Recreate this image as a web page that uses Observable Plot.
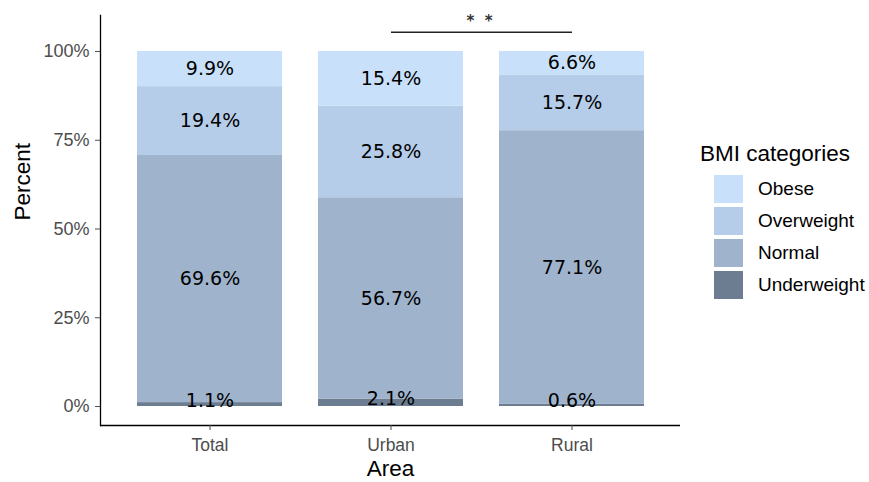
<!DOCTYPE html>
<html>
<head>
<meta charset="utf-8">
<script src="https://cdn.jsdelivr.net/npm/d3@7"></script>
<script src="https://cdn.jsdelivr.net/npm/@observablehq/plot@0.6"></script>
<style>
  html, body { margin: 0; padding: 0; background: #fff; }
  #wrap { position: relative; width: 869px; height: 482px; font-family: "Liberation Sans", Arial, sans-serif; }
  #legend { position: absolute; left: 700px; top: 141px; }
  #legend .title { font-size: 22.5px; color: #000; margin-bottom: 6px; white-space: nowrap; }
  #legend .row { display: flex; align-items: center; height: 32px; }
  #legend .key { width: 29px; height: 28px; margin-left: 14px; margin-right: 15px; }
  #legend .lab { font-size: 19px; color: #000; white-space: nowrap; }
</style>
</head>
<body>
<div id="wrap"></div>
<script>
// ---- data ----
const areas = ["Total", "Urban", "Rural"];
const categories = ["Underweight", "Normal", "Overweight", "Obese"]; // bottom -> top
const underweight = [1.1, 2.1, 0.6];
const normal = [69.6, 56.7, 77.1];
const overweight = [19.4, 25.8, 15.7];
const obese = [9.9, 15.4, 6.6];
const colors = ["#6d7d91", "#9fb4cc", "#b5cde8", "#c8e0fa"];
const yTicks = [0, 25, 50, 75, 100];
const legendOrder = ["Obese", "Overweight", "Normal", "Underweight"];
const sigPair = ["Urban", "Rural"];
const sigLabel = "*  *";
const sigLevel = 105.4;
const sigTextLevel = 108.4;

// ---- build stacked table ----
const series = [underweight, normal, overweight, obese];
const rows = [];
areas.forEach((a, i) => {
  let acc = 0;
  categories.forEach((c, j) => {
    const v = series[j][i];
    rows.push({area: a, cat: c, value: v, y1: acc, y2: acc + v, mid: acc + v / 2, label: v.toFixed(1) + "%"});
    acc += v;
  });
});

const W = 869, H = 482;
const mL = 100, mR = 189, mT = 15, mB = 57;
const yDomain = [-5.35, 110.14];
const step = (W - mL - mR) / 3.2;

const plot = Plot.plot({
  width: W, height: H,
  marginLeft: mL, marginRight: mR, marginTop: mT, marginBottom: mB,
  style: {fontFamily: "'Liberation Sans', Arial, sans-serif", background: "#fff", overflow: "visible"},
  x: {domain: areas, paddingInner: 0.2, paddingOuter: 0.2, label: null},
  y: {domain: yDomain, label: null},
  color: {domain: categories, range: colors},
  marks: [
    Plot.barY(rows, {x: "area", y1: "y1", y2: "y2", fill: "cat", inset: 0}),
    Plot.text(rows.filter(d => d.cat !== "Underweight"), {
      x: "area", y: "mid", text: "label",
      fontFamily: "'DejaVu Sans', Verdana, sans-serif", fontSize: 19, fill: "#000"
    }),
    Plot.text(rows.filter(d => d.cat === "Underweight"), {
      x: "area", y: "mid", text: "label", lineAnchor: "bottom", dy: 2,
      fontFamily: "'DejaVu Sans', Verdana, sans-serif", fontSize: 19, fill: "#000"
    }),
    Plot.link([{a: sigPair[0], b: sigPair[1], v: sigLevel}], {
      x1: "a", x2: "b", y1: "v", y2: "v", stroke: "#222", strokeWidth: 1.5
    }),
    Plot.text([{a: sigPair[0], v: sigTextLevel, t: sigLabel}], {
      x: "a", y: "v", text: "t", dx: step / 2 - 2, fontSize: 15, fill: "#333",
      fontFamily: "'DejaVu Sans', sans-serif", fontWeight: "bold"
    }),
    Plot.ruleY([yDomain[0]], {stroke: "#000", strokeWidth: 1.3}),
    Plot.frame({anchor: "left", stroke: "#000", strokeWidth: 1.3}),
    Plot.axisY({
      ticks: yTicks, tickFormat: d => d + "%", tickSize: 5, tickPadding: 6,
      fontSize: 18, color: "#4d4d4d", label: null
    }),
    Plot.axisX({
      tickSize: 5, tickPadding: 8, fontSize: 17.5, color: "#4d4d4d", label: null
    }),
    Plot.text(["Percent"], {
      frameAnchor: "left", dx: -78, rotate: -90, text: d => d, fontSize: 22.5, fill: "#000"
    }),
    Plot.text(["Area"], {
      frameAnchor: "bottom", lineAnchor: "middle", dy: 43, text: d => d, fontSize: 22.5, fill: "#000"
    })
  ]
});

const wrap = document.getElementById("wrap");
wrap.appendChild(plot);

// legend
const leg = document.createElement("div");
leg.id = "legend";
const t = document.createElement("div");
t.className = "title";
t.textContent = "BMI categories";
leg.appendChild(t);
legendOrder.forEach(c => {
  const r = document.createElement("div");
  r.className = "row";
  const k = document.createElement("div");
  k.className = "key";
  k.style.background = colors[categories.indexOf(c)];
  const l = document.createElement("div");
  l.className = "lab";
  l.textContent = c;
  r.appendChild(k); r.appendChild(l);
  leg.appendChild(r);
});
wrap.appendChild(leg);
</script>
</body>
</html>
